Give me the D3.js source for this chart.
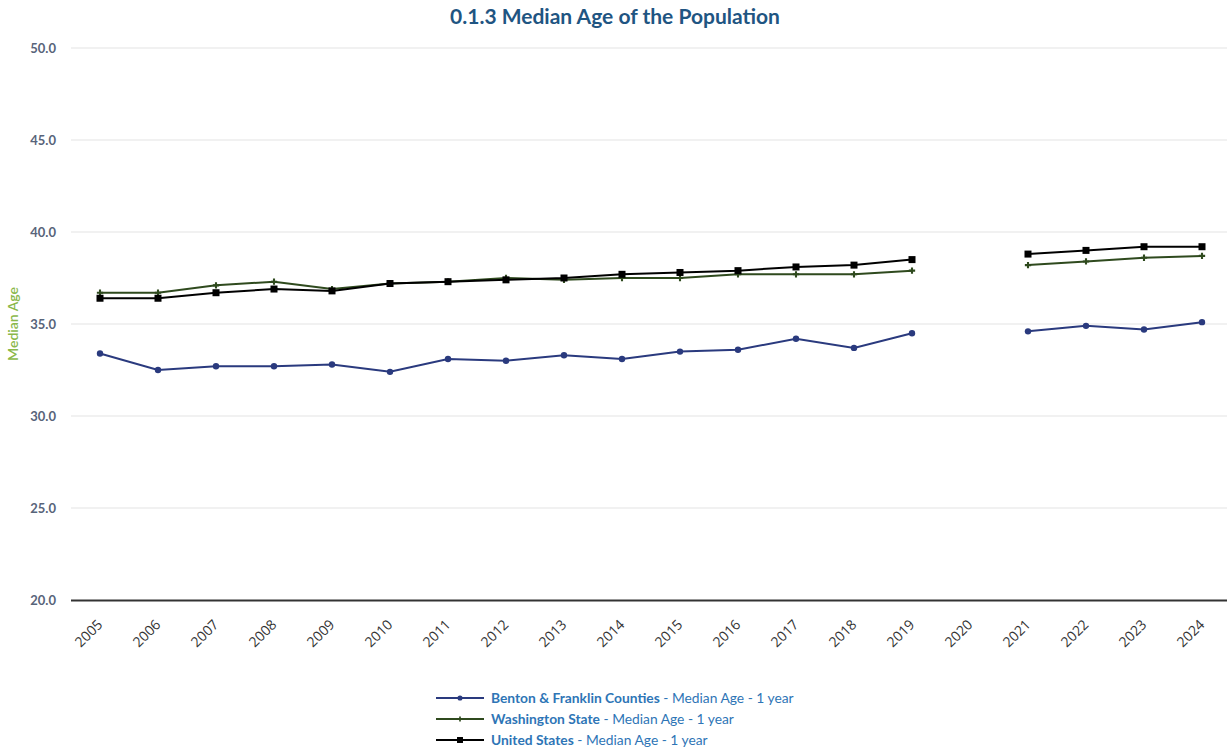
<!DOCTYPE html>
<html>
<head>
<meta charset="utf-8">
<script src="https://cdn.jsdelivr.net/npm/d3@7"></script>
<style>
  body { margin: 0; background: #fff; }
  svg { display: block; font-family: Lato, "Open Sans", sans-serif; }
</style>
</head>
<body>
<svg id="chart"></svg>
<script>
const years = ['2005', '2006', '2007', '2008', '2009', '2010', '2011', '2012', '2013', '2014',
               '2015', '2016', '2017', '2018', '2019', '2020', '2021', '2022', '2023', '2024']
const bentonFranklin = [33.4, 32.5, 32.7, 32.7, 32.8, 32.4, 33.1, 33.0, 33.3, 33.1,
                        33.5, 33.6, 34.2, 33.7, 34.5, null, 34.6, 34.9, 34.7, 35.1]
const washington = [36.7, 36.7, 37.1, 37.3, 36.9, 37.2, 37.3, 37.5, 37.4, 37.5,
                    37.5, 37.7, 37.7, 37.7, 37.9, null, 38.2, 38.4, 38.6, 38.7]
const unitedStates = [36.4, 36.4, 36.7, 36.9, 36.8, 37.2, 37.3, 37.4, 37.5, 37.7,
                      37.8, 37.9, 38.1, 38.2, 38.5, null, 38.8, 39.0, 39.2, 39.2]
const yTicks = [20, 25, 30, 35, 40, 45, 50]
const seriesNames = ['Benton & Franklin Counties', 'Washington State', 'United States']

const w = 1227
const h = 753
const padLeft = 71
const padRight = 1231
const padTop = 48
const padBottom = 600

const series = [
  {name: seriesNames[0], values: bentonFranklin, color: '#2a3a7e', marker: 'circle'},
  {name: seriesNames[1], values: washington, color: '#2f4a1e', marker: 'plus'},
  {name: seriesNames[2], values: unitedStates, color: '#000000', marker: 'square'}
]

const svg = d3.select('#chart').attr('width', w).attr('height', h)

const xScale = d3.scaleBand().domain(years).range([padLeft, padRight])
const yScale = d3.scaleLinear().domain([20, 50]).range([padBottom, padTop])
const xPos = d => xScale(d) + xScale.bandwidth() / 2

// title
svg.append('text')
  .attr('x', 615)
  .attr('y', 24)
  .attr('text-anchor', 'middle')
  .style('font-size', '21px')
  .style('font-weight', 'bold')
  .style('fill', '#1f5582')
  .text('0.1.3 Median Age of the Population')

// gridlines
svg.append('g')
  .selectAll('line')
  .data(yTicks.filter(t => t !== 20))
  .enter()
  .append('line')
  .attr('x1', padLeft)
  .attr('x2', w)
  .attr('y1', d => yScale(d))
  .attr('y2', d => yScale(d))
  .attr('stroke', '#e3e3e3')
  .attr('stroke-width', 1)

// y axis labels
const yAxis = d3.axisLeft(yScale)
  .tickValues(yTicks)
  .tickFormat(d3.format('.1f'))
  .tickSize(0)
  .tickPadding(15)
const yg = svg.append('g')
  .attr('transform', 'translate(' + padLeft + ',0)')
  .call(yAxis)
yg.select('.domain').remove()
yg.selectAll('text')
  .style('font-family', 'Lato, sans-serif')
  .style('font-size', '13px')
  .style('font-weight', 'bold')
  .style('fill', '#58647a')

// x axis
const xAxis = d3.axisBottom(xScale).tickSize(0).tickPadding(0)
const xg = svg.append('g')
  .attr('transform', 'translate(0,' + padBottom + ')')
  .call(xAxis)
xg.select('.domain')
  .attr('d', 'M' + padLeft + ',0.5H' + w)
  .attr('stroke', '#333')
  .attr('stroke-width', 2)
xg.selectAll('text')
  .attr('text-anchor', 'end')
  .attr('transform', 'translate(0,22) rotate(-45)')
  .attr('dy', '0.35em')
  .style('font-family', '"Open Sans", sans-serif')
  .style('font-size', '14px')
  .style('fill', '#333')

// y axis title
svg.append('text')
  .attr('transform', 'rotate(-90)')
  .attr('x', -324)
  .attr('y', 18)
  .attr('text-anchor', 'middle')
  .style('font-size', '14px')
  .style('font-weight', '600')
  .style('fill', '#8ab84a')
  .text('Median Age')

// lines
const line = d3.line()
  .defined(d => d.v !== null)
  .x(d => xPos(d.year))
  .y(d => yScale(d.v))

const drawMarker = (g, marker, color, x, y, s) => {
  if (marker === 'circle') {
    g.append('circle').attr('cx', x).attr('cy', y).attr('r', 3.2 * s).attr('fill', color)
  } else if (marker === 'square') {
    g.append('rect').attr('x', x - 3.5 * s).attr('y', y - 3.5 * s)
      .attr('width', 7 * s).attr('height', 7 * s).attr('fill', color)
  } else {
    g.append('path')
      .attr('d', d3.symbol().type(d3.symbolCross).size(22 * s * s)())
      .attr('transform', 'translate(' + x + ',' + y + ')')
      .attr('fill', color)
  }
}

series.forEach(s => {
  const pts = years.map((year, i) => ({year, v: s.values[i]}))
  const g = svg.append('g')
  g.append('path')
    .datum(pts)
    .attr('d', line)
    .attr('fill', 'none')
    .attr('stroke', s.color)
    .attr('stroke-width', 2)
  pts.filter(d => d.v !== null).forEach(d => {
    drawMarker(g, s.marker, s.color, xPos(d.year), yScale(d.v), 1)
  })
})

// legend
const legend = svg.append('g')
series.forEach((s, i) => {
  const y = 698 + i * 21
  legend.append('line')
    .attr('x1', 436).attr('x2', 484)
    .attr('y1', y).attr('y2', y)
    .attr('stroke', s.color).attr('stroke-width', 2)
  drawMarker(legend, s.marker, s.color, 460, y, s.marker === 'square' ? 0.85 : 0.8)
  const t = legend.append('text')
    .attr('x', 491)
    .attr('y', y + 5)
    .style('font-size', '13.8px')
  t.append('tspan').style('font-weight', 'bold').style('fill', '#2e75b6').text(s.name)
  t.append('tspan').style('fill', '#2e75b6').text(' - Median Age - 1 year')
})
</script>
</body>
</html>
